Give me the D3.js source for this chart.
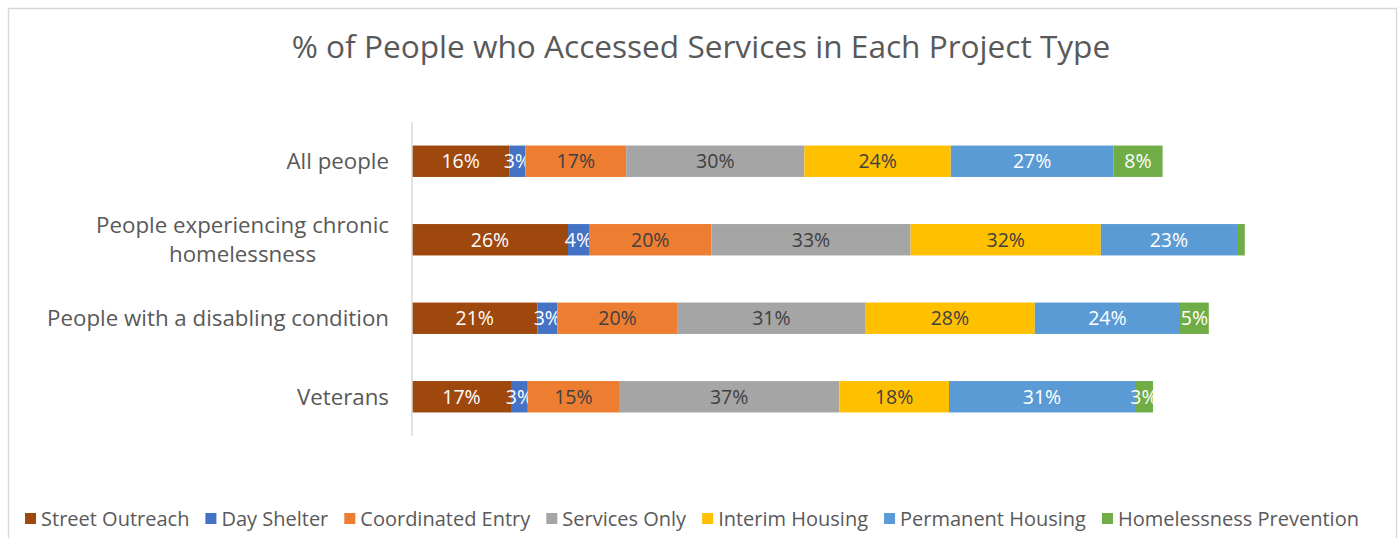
<!DOCTYPE html>
<html>
<head>
<meta charset="utf-8">
<script src="https://cdn.jsdelivr.net/npm/d3@7"></script>
<style>
  body { margin: 0; background: #fff; }
  svg { font-family: "Open Sans", "Noto Sans", sans-serif; }
</style>
</head>
<body>
<script>
// data (percent of people per project type)
var categories = ["All people", "People experiencing chronic homelessness", "People with a disabling condition", "Veterans"];
var series = ["Street Outreach", "Day Shelter", "Coordinated Entry", "Services Only", "Interim Housing", "Permanent Housing", "Homelessness Prevention"];
var colors = ["#9e480e", "#4472c4", "#ed7d31", "#a5a5a5", "#ffc000", "#5b9bd5", "#70ad47"];
var labelColors = ["#fff", "#fff", "#404040", "#404040", "#404040", "#fff", "#fff"];

var streetOutreach = [16.2, 26.0, 20.9, 16.5];
var dayShelter     = [2.7, 3.5, 3.3, 2.8];
var coordEntry     = [16.8, 20.4, 20.1, 15.2];
var servicesOnly   = [29.7, 33.2, 31.2, 36.7];
var interimHousing = [24.4, 31.7, 28.3, 18.3];
var permHousing    = [27.1, 22.7, 24.2, 31.0];
var prevention     = [8.2, 1.3, 4.8, 3.0];
var hideLabel      = [false, true, false, false]; // tiny green slice in row 2 has no label

var values = [streetOutreach, dayShelter, coordEntry, servicesOnly, interimHousing, permHousing, prevention];

var width = 1399, height = 538;

var svg = d3.select("body").append("svg")
    .attr("width", width)
    .attr("height", height);

// chart frame
svg.append("rect")
    .attr("x", 8.5).attr("y", 8.5)
    .attr("width", 1388).attr("height", 560)
    .attr("fill", "#fff")
    .attr("stroke", "#d9d9d9")
    .attr("stroke-width", 1.5);

svg.append("text")
    .attr("x", 701).attr("y", 58)
    .attr("text-anchor", "middle")
    .attr("fill", "#595959")
    .style("font-size", "31.6px")
    .text("% of People who Accessed Services in Each Project Type");

var x = d3.scaleLinear().domain([0, 140]).range([412, 1252]);
var y = d3.scaleBand().domain(categories).range([122, 436])
    .paddingInner(0.6).paddingOuter(0.3);

// stack the series
var rows = categories.map(function(c, i) {
  var r = {cat: c};
  series.forEach(function(s, j) { r[s] = values[j][i]; });
  return r;
});
var stacked = d3.stack().keys(series)(rows);

var layer = svg.selectAll("g.layer")
    .data(stacked)
  .enter().append("g")
    .attr("class", "layer");

layer.selectAll("rect")
    .data(function(d) { return d; })
  .enter().append("rect")
    .attr("x", function(d) { return x(d[0]); })
    .attr("y", function(d) { return y(d.data.cat); })
    .attr("width", function(d) { return x(d[1]) - x(d[0]); })
    .attr("height", y.bandwidth())
    .attr("fill", function(d, i, n) { return colors[n[i].parentNode.__data__.index]; });

layer.selectAll("text")
    .data(function(d) { return d.map(function(p, i) { return {p: p, k: d.index, i: i}; }); })
  .enter().filter(function(d) { return !(d.k === 6 && hideLabel[d.i]); })
    .append("text")
    .attr("x", function(d) { return (x(d.p[0]) + x(d.p[1])) / 2; })
    .attr("y", function(d) { return y(d.p.data.cat) + y.bandwidth() / 2; })
    .attr("dy", "0.35em")
    .attr("text-anchor", "middle")
    .attr("fill", function(d) { return labelColors[d.k]; })
    .style("font-size", "19.5px")
    .text(function(d) { return Math.round(d.p[1] - d.p[0]) + "%"; });

// vertical category axis line
svg.append("line")
    .attr("x1", 412).attr("x2", 412)
    .attr("y1", 122).attr("y2", 436)
    .attr("stroke", "#d9d9d9")
    .attr("stroke-width", 1.5);

// category labels (wrapped like Excel, centered lines, right aligned block)
categories.forEach(function(c) {
  var lines = c === "People experiencing chronic homelessness" ? ["People experiencing chronic", "homelessness"] : [c];
  var g = svg.append("g");
  var cy = y(c) + y.bandwidth() / 2;
  var lh = 29;
  var t = g.append("text")
      .attr("fill", "#595959")
      .style("font-size", "22.3px")
      .attr("text-anchor", "middle");
  lines.forEach(function(l, i) {
    t.append("tspan")
        .attr("x", 0)
        .attr("y", cy + (i - (lines.length - 1) / 2) * lh)
        .attr("dy", "0.35em")
        .text(l);
  });
  var w = t.node().getBBox().width;
  t.attr("transform", "translate(" + (389 - w / 2) + ",0)");
});

// legend
var legend = svg.append("g");
var lx = 0;
series.forEach(function(s, i) {
  var it = legend.append("g").attr("transform", "translate(" + lx + ",0)");
  it.append("rect").attr("x", 0).attr("y", -6).attr("width", 11).attr("height", 11).attr("fill", colors[i]);
  var t = it.append("text").attr("x", 16).attr("y", 0).attr("dy", "0.35em")
      .attr("fill", "#595959").style("font-size", "20px").text(s);
  lx += 16 + t.node().getComputedTextLength() + 16;
});
var total = lx - 16;
legend.attr("transform", "translate(" + (692 - total / 2) + ",519)");
</script>
</body>
</html>
